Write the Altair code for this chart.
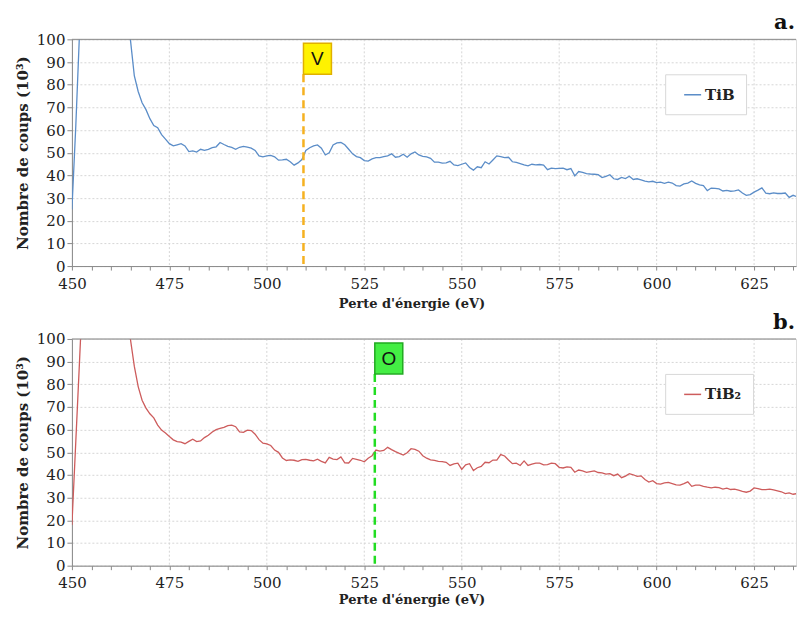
import altair as alt
import pandas as pd

# ---------------- data ----------------
energy = list(range(450, 639))

tib = [
    25, 62, 105, 140, 150, 150, 150, 150, 150, 150,          # 450-459
    150, 150, 150, 150, 118, 100, 84, 77, 72, 69,            # 460-469
    65, 62, 61, 58, 56, 54, 53, 53.5, 54, 53,                # 470-479
    50.5, 50.8, 50.3, 51.5, 51, 51.5, 52.2, 52.6, 54.5, 53.6,  # 480-489
    52.8, 52.3, 51.5, 52.4, 52.8, 52.5, 52, 51, 48.6, 48.2,  # 490-499
    48.6, 48.8, 48.2, 46.7, 46.8, 47.1, 46, 44.5, 45.5, 47,  # 500-509
    51, 52.2, 53, 53.4, 52, 49, 50, 53.4, 54.3, 54.5,        # 510-519
    53.5, 51.5, 49.5, 48.3, 47.8, 46.5, 46.3, 47.3, 47.8, 47.8,  # 520-529
    48.3, 48.6, 49.5, 48, 48.3, 49.3, 48, 49.5, 50.3, 49,    # 530-539
    48.4, 48.2, 47.5, 45.8, 45.8, 45.4, 45.5, 46.2, 44.6, 44.3,  # 540-549
    44.9, 45.5, 43.5, 42.3, 43.8, 43.4, 46, 45, 46.8, 48.6,  # 550-559
    48.3, 47.8, 48, 46, 45.7, 45.2, 44.6, 44.2, 44.9, 44.6,  # 560-569
    44.8, 44.5, 42.5, 43.2, 43, 43.1, 43.2, 42.5, 43, 39.8,  # 570-579
    41.7, 41.3, 40.8, 40.6, 40.5, 40.3, 39, 39.6, 40.3, 38.5,  # 580-589
    38.2, 39.1, 38.6, 39.6, 38.2, 38.5, 38, 37.5, 37.1, 37.4,  # 590-599
    36.8, 37, 36.5, 37, 36.6, 35.5, 35.3, 36.2, 36.6, 37.5,  # 600-609
    36.5, 35.8, 35.5, 33.3, 34.4, 34.3, 34, 33.1, 33.4, 33,  # 610-619
    33.2, 33.6, 32.2, 31.2, 31.5, 32.6, 33.5, 34.5, 32.2, 31.9,  # 620-629
    32.3, 32, 32, 32.2, 30.3, 31.2, 30.6, 30.4, 30.9,        # 630-638
]

tib2 = [
    18, 55, 92, 130, 150, 150, 150, 150, 150, 150,           # 450-459
    150, 150, 150, 150, 125, 100, 88, 79, 73, 69.5,          # 460-469
    67, 65.2, 62, 59.8, 58.5, 57, 55.5, 54.7, 54.5, 53.8,    # 470-479
    54.8, 55.8, 54.7, 55, 56.5, 57.5, 59, 60, 60.6, 61,      # 480-489
    61.8, 62, 61.3, 59, 58.8, 59.8, 59.6, 58, 55.6, 54,      # 490-499
    53.7, 53, 51, 50, 47.5, 46.4, 46.7, 46.5, 46, 46.8,      # 500-509
    46.9, 46.5, 46.2, 47, 46, 45.3, 47.8, 47, 46.8, 48,      # 510-519
    45.4, 45.3, 47.3, 46.9, 46.5, 45.8, 47.4, 48.5, 51, 50.5,  # 520-529
    50.8, 52.2, 51.2, 50.3, 49.5, 48.8, 49.8, 51.6, 51.3, 50.5,  # 530-539
    48.5, 47.4, 46.7, 46.4, 46, 45.9, 45.6, 44.2, 44.9, 45.2,  # 540-549
    42.5, 44.5, 45, 42, 43.2, 43.8, 45.6, 45.4, 46.6, 46.6,  # 550-559
    49, 48.4, 46.6, 45, 45.2, 44.2, 46.2, 44.2, 44.8, 45.2,  # 560-569
    45.2, 44.5, 44.6, 45.2, 45, 43.4, 43.1, 43.6, 43.4, 41.2,  # 570-579
    42.2, 41.8, 41.2, 41.5, 41.8, 41.1, 40.9, 40.4, 40.6, 39.7,  # 580-589
    40.4, 38.8, 39.5, 40.6, 40.1, 39.4, 39.6, 38, 36.9, 37.5,  # 590-599
    36.2, 36, 36.5, 36.7, 36.2, 35.6, 35.5, 36.2, 37, 35,    # 600-609
    35.5, 35.5, 35, 34.6, 34.3, 34.6, 34.4, 33.8, 34.2, 33.6,  # 610-619
    33.8, 33.3, 32.8, 32.4, 32.9, 34.3, 34, 33.5, 33.5, 33.8,  # 620-629
    33.4, 33, 32.6, 31.8, 32.1, 31.5, 31.8, 32, 31.4,        # 630-638
]

x_ticks = list(range(450, 640, 5))
x_grid = [475, 500, 525, 550, 575, 600, 625]
y_ticks = list(range(0, 101, 10))

W, H = 725, 227
SERIF = "DejaVu Serif"
XSCALE = alt.Scale(domain=[450, 635.75], nice=False, zero=False)
YSCALE = alt.Scale(domain=[0, 100], nice=False)


def make_xaxis(title_y):
    return alt.Axis(
        values=x_ticks, grid=False,
        labelExpr="datum.value % 25 === 0 ? datum.label : ''",
        domainColor="#8a8a8a", tickColor="#8a8a8a", tickSize=4,
        labelFont=SERIF, labelFontSize=15, labelColor="#222", labelPadding=6,
        labelFlush=False,
        title="Perte d'énergie (eV)", titleFont=SERIF, titleFontWeight="bold",
        titleFontSize=13, titleColor="#222", titleX=340, titleY=title_y,
        titleBaseline="middle", titleAlign="center",
    )


yaxis = alt.Axis(
    values=y_ticks, gridColor="#d6d6d6", gridDash=[2, 2],
    domainColor="#8a8a8a", tickColor="#8a8a8a", tickSize=5,
    labelFont=SERIF, labelFontSize=15, labelColor="#222", labelPadding=2,
    title="Nombre de coups (10³)", titleFont=SERIF, titleFontWeight="bold",
    titleFontSize=15, titleColor="#222", titlePadding=6,
)


def panel(values, name, color, marker_e, marker_lbl, box_fill, box_stroke,
          dash_color, letter, title_y):
    df = pd.DataFrame({"energy": energy, "counts": values, "series": name})
    mk = pd.DataFrame({"energy": [marker_e], "label": [marker_lbl], "top": [100]})
    gd = pd.DataFrame({"energy": x_grid})
    xaxis = make_xaxis(title_y)
    x = alt.X("energy:Q", scale=XSCALE, axis=xaxis)
    y = alt.Y("counts:Q", scale=YSCALE, axis=yaxis)

    grid = alt.Chart(gd).mark_rule(color="#d6d6d6", strokeDash=[2, 2], strokeWidth=1).encode(
        x=x
    )
    line = alt.Chart(df).mark_line(clip=True, strokeWidth=1.3).encode(
        x=x, y=y,
        color=alt.Color(
            "series:N",
            scale=alt.Scale(domain=[name], range=[color]),
            legend=alt.Legend(
                title=None, orient="none", legendX=594, legendY=35,
                padding=11, symbolOffset=7, strokeColor="#d8d8d8", fillColor="white",
                symbolType="stroke", symbolSize=289, symbolStrokeWidth=1.5,
                labelFont=SERIF, labelFontWeight="bold", labelFontSize=15,
                labelColor="#222", labelOffset=3,
            ),
        ),
    )
    top_rule = alt.Chart(mk).mark_rule(color="#8a8a8a", strokeWidth=1).encode(
        y=alt.Y("top:Q", scale=YSCALE, axis=yaxis)
    )
    dash = alt.Chart(mk).mark_rule(strokeDash=[8, 5], strokeWidth=2.5, color=dash_color).encode(
        x=x, y=alt.value(35), y2=alt.value(H)
    )
    box = alt.Chart(mk).mark_rect(fill=box_fill, stroke=box_stroke, strokeWidth=1.5,
                                  x2Offset=28).encode(
        x=x, x2="energy", y=alt.value(4), y2=alt.value(35)
    )
    txt = alt.Chart(mk).mark_text(font="Liberation Sans", fontSize=19, dx=14,
                                  baseline="middle", color="#111").encode(
        x=x, y=alt.value(20), text="label:N"
    )
    lett = alt.Chart(mk).mark_text(font=SERIF, fontWeight="bold", fontSize=21,
                                   baseline="middle", align="right", color="#111").encode(
        x=alt.value(W - 1), y=alt.value(-16), text=alt.value(letter)
    )
    return alt.layer(grid, line, top_rule, dash, box, txt, lett).properties(width=W, height=H)


top = panel(tib, "TiB", "#5b8dc8", 509.4, "V", "#fff200", "#e0b000", "#f5b120", "a.", 37)
bottom = panel(tib2, "TiB₂", "#cd5c5c", 527.7, "O", "#44ee44", "#22aa22", "#22dd22", "b.", 34)

chart = alt.vconcat(top, bottom, spacing=73, bounds="flush").resolve_scale(
    color="independent"
).resolve_legend(color="independent").properties(
    padding={"left": 6, "top": 3, "right": 0, "bottom": 0}
).configure_view(stroke=None).configure(background="white")

chart.save("out.html", embed_options={"renderer": "svg", "actions": False})
